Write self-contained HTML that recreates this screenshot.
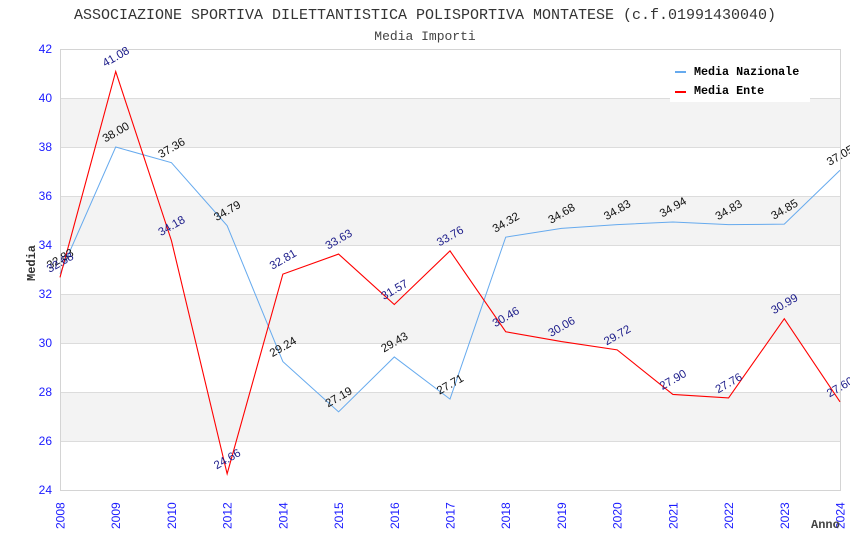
<!DOCTYPE html>
<html><head><meta charset="utf-8"><style>
html,body{margin:0;padding:0;background:#fff;}
svg{display:block;}
</style></head><body>
<svg width="850" height="550" viewBox="0 0 850 550" xmlns="http://www.w3.org/2000/svg">
<rect width="850" height="550" fill="#fff"/>
<!-- title -->
<text x="425" y="19" text-anchor="middle" font-family="Liberation Mono, monospace" font-size="15" fill="#333">ASSOCIAZIONE SPORTIVA DILETTANTISTICA POLISPORTIVA MONTATESE (c.f.01991430040)</text>
<text x="425" y="40" text-anchor="middle" font-family="Liberation Mono, monospace" font-size="13" fill="#444">Media Importi</text>
<!-- bands -->
<g fill="#f3f3f3">
<rect x="60" y="98" width="780" height="49"/>
<rect x="60" y="196" width="780" height="49"/>
<rect x="60" y="294" width="780" height="49"/>
<rect x="60" y="392" width="780" height="49"/>
</g>
<!-- grid -->
<g stroke="#dcdcdc" stroke-width="1">
<line x1="60" y1="98.5" x2="840" y2="98.5"/>
<line x1="60" y1="147.5" x2="840" y2="147.5"/>
<line x1="60" y1="196.5" x2="840" y2="196.5"/>
<line x1="60" y1="245.5" x2="840" y2="245.5"/>
<line x1="60" y1="294.5" x2="840" y2="294.5"/>
<line x1="60" y1="343.5" x2="840" y2="343.5"/>
<line x1="60" y1="392.5" x2="840" y2="392.5"/>
<line x1="60" y1="441.5" x2="840" y2="441.5"/>
</g>
<rect x="60.5" y="49.5" width="780" height="441" fill="none" stroke="#d4d4d4" stroke-width="1"/>
<!-- y ticks -->
<g font-family="Liberation Sans, sans-serif" font-size="12" fill="#1a1aff" text-anchor="end">
<text x="52" y="53">42</text>
<text x="52" y="102">40</text>
<text x="52" y="151">38</text>
<text x="52" y="200">36</text>
<text x="52" y="249">34</text>
<text x="52" y="298">32</text>
<text x="52" y="347">30</text>
<text x="52" y="396">28</text>
<text x="52" y="445">26</text>
<text x="52" y="494">24</text>
</g>
<!-- x ticks -->
<g font-family="Liberation Sans, sans-serif" font-size="12" fill="#1a1aff" text-anchor="start">
<text transform="translate(64.5,529) rotate(-90)">2008</text>
<text transform="translate(120.2,529) rotate(-90)">2009</text>
<text transform="translate(175.9,529) rotate(-90)">2010</text>
<text transform="translate(231.6,529) rotate(-90)">2012</text>
<text transform="translate(287.4,529) rotate(-90)">2014</text>
<text transform="translate(343.1,529) rotate(-90)">2015</text>
<text transform="translate(398.8,529) rotate(-90)">2016</text>
<text transform="translate(454.5,529) rotate(-90)">2017</text>
<text transform="translate(510.2,529) rotate(-90)">2018</text>
<text transform="translate(565.9,529) rotate(-90)">2019</text>
<text transform="translate(621.6,529) rotate(-90)">2020</text>
<text transform="translate(677.4,529) rotate(-90)">2021</text>
<text transform="translate(733.1,529) rotate(-90)">2022</text>
<text transform="translate(788.8,529) rotate(-90)">2023</text>
<text transform="translate(844.5,529) rotate(-90)">2024</text>
</g>
<!-- axis titles -->
<text transform="translate(35,263) rotate(-90)" text-anchor="middle" font-family="Liberation Mono, monospace" font-size="12" font-weight="bold" fill="#333">Media</text>
<text x="811" y="528" font-family="Liberation Mono, monospace" font-size="12" font-weight="bold" fill="#444">Anno</text>
<!-- series -->
<polyline fill="none" stroke="#66aaee" stroke-width="1" points="60,273.67 115.71,147 171.43,162.68 227.14,225.64 282.86,361.62 338.57,411.84 394.29,356.96 450,399.1 505.71,237.16 561.43,228.34 617.14,224.67 672.86,221.97 728.57,224.67 784.29,224.17 840,170.27"/>
<polyline fill="none" stroke="#ff0000" stroke-width="1.1" points="60,277.34 115.71,71.54 171.43,240.59 227.14,473.83 282.86,274.15 338.57,254.06 394.29,304.53 450,250.88 505.71,331.73 561.43,341.53 617.14,349.86 672.86,394.45 728.57,397.88 784.29,318.74 840,401.8"/>
<!-- Nazionale labels -->
<g font-family="Liberation Sans, sans-serif" font-size="11.5" fill="#111" text-anchor="middle">
<text transform="translate(60,258.7) rotate(-30)" dy="4">32.83</text>
<text transform="translate(115.71,132) rotate(-30)" dy="4">38.00</text>
<text transform="translate(171.43,147.7) rotate(-30)" dy="4">37.36</text>
<text transform="translate(227.14,210.6) rotate(-30)" dy="4">34.79</text>
<text transform="translate(282.86,346.6) rotate(-30)" dy="4">29.24</text>
<text transform="translate(338.57,396.8) rotate(-30)" dy="4">27.19</text>
<text transform="translate(394.29,342) rotate(-30)" dy="4">29.43</text>
<text transform="translate(450,384.1) rotate(-30)" dy="4">27.71</text>
<text transform="translate(505.71,222.2) rotate(-30)" dy="4">34.32</text>
<text transform="translate(561.43,213.3) rotate(-30)" dy="4">34.68</text>
<text transform="translate(617.14,209.7) rotate(-30)" dy="4">34.83</text>
<text transform="translate(672.86,207) rotate(-30)" dy="4">34.94</text>
<text transform="translate(728.57,209.7) rotate(-30)" dy="4">34.83</text>
<text transform="translate(784.29,209.2) rotate(-30)" dy="4">34.85</text>
<text transform="translate(840,155.3) rotate(-30)" dy="4">37.05</text>
</g>
<!-- Ente labels -->
<g font-family="Liberation Sans, sans-serif" font-size="11.5" fill="#1c1c8a" text-anchor="middle">
<text transform="translate(60,262.3) rotate(-30)" dy="4">32.68</text>
<text transform="translate(115.71,56.5) rotate(-30)" dy="4">41.08</text>
<text transform="translate(171.43,225.6) rotate(-30)" dy="4">34.18</text>
<text transform="translate(227.14,458.8) rotate(-30)" dy="4">24.66</text>
<text transform="translate(282.86,259.2) rotate(-30)" dy="4">32.81</text>
<text transform="translate(338.57,239.1) rotate(-30)" dy="4">33.63</text>
<text transform="translate(394.29,289.5) rotate(-30)" dy="4">31.57</text>
<text transform="translate(450,235.9) rotate(-30)" dy="4">33.76</text>
<text transform="translate(505.71,316.7) rotate(-30)" dy="4">30.46</text>
<text transform="translate(561.43,326.5) rotate(-30)" dy="4">30.06</text>
<text transform="translate(617.14,334.9) rotate(-30)" dy="4">29.72</text>
<text transform="translate(672.86,379.5) rotate(-30)" dy="4">27.90</text>
<text transform="translate(728.57,382.9) rotate(-30)" dy="4">27.76</text>
<text transform="translate(784.29,303.7) rotate(-30)" dy="4">30.99</text>
<text transform="translate(840,386.8) rotate(-30)" dy="4">27.60</text>
</g>
<!-- legend -->
<rect x="670" y="55" width="140" height="47" fill="#fff"/>
<line x1="675" y1="72" x2="686" y2="72" stroke="#66aaee" stroke-width="2"/>
<line x1="675" y1="92" x2="686" y2="92" stroke="#ff0000" stroke-width="2"/>
<text x="694" y="75" font-family="Liberation Mono, monospace" font-size="11.7" font-weight="bold" fill="#000">Media Nazionale</text>
<text x="694" y="94" font-family="Liberation Mono, monospace" font-size="11.7" font-weight="bold" fill="#000">Media Ente</text>
</svg>
</body></html>
